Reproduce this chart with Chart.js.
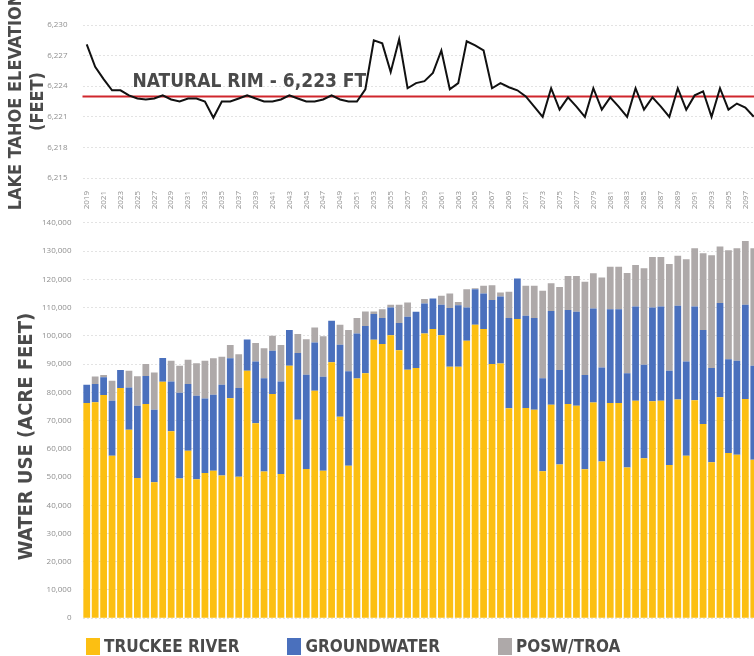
<!DOCTYPE html>
<html>
<head>
<meta charset="utf-8">
<title>Lake Tahoe elevation and water use</title>
<script src="https://cdn.jsdelivr.net/npm/chart.js@4.4.0/dist/chart.umd.min.js"></script>
<style>
  html, body { margin: 0; padding: 0; background: #fff; }
  #wrap { position: relative; width: 754px; height: 656px; overflow: hidden; }
  #elev-chart { position: absolute; left: 0; top: 0; }
  #use-chart  { position: absolute; left: 0; top: 207px; }
  #legend {
    position: absolute; left: 86px; top: 636px; display: flex; align-items: center;
    font: bold 17px "DejaVu Sans Condensed", "Liberation Sans Narrow", Roboto, sans-serif;
    color: #4a4a4a; white-space: nowrap;
  }
  .lg-item { display: flex; align-items: center; margin-right: 48px; }
  .lg-item:nth-child(2) { margin-right: 58px; }
  .lg-box  { width: 14px; height: 17px; margin-right: 4px; }
</style>
</head>
<body>
<div id="wrap">
  <canvas id="elev-chart" width="758" height="212"></canvas>
  <canvas id="use-chart" width="758" height="427"></canvas>
  <div id="legend"></div>
</div>
<script>
// ---- data -------------------------------------------------------------
const years = [
  '2019','2020','2021','2022','2023','2024','2025','2026','2027','2028',
  '2029','2030','2031','2032','2033','2034','2035','2036','2037','2038',
  '2039','2040','2041','2042','2043','2044','2045','2046','2047','2048',
  '2049','2050','2051','2052','2053','2054','2055','2056','2057','2058',
  '2059','2060','2061','2062','2063','2064','2065','2066','2067','2068',
  '2069','2070','2071','2072','2073','2074','2075','2076','2077','2078',
  '2079','2080','2081','2082','2083','2084','2085','2086','2087','2088',
  '2089','2090','2091','2092','2093','2094','2095','2096','2097','2098'
];

// lake elevation, feet
const elevation = [
  6228.1, 6225.9, 6224.7, 6223.6, 6223.6, 6223.1, 6222.8, 6222.7, 6222.8, 6223.1,
  6222.7, 6222.5, 6222.8, 6222.8, 6222.5, 6220.9, 6222.5, 6222.5, 6222.8, 6223.1,
  6222.8, 6222.5, 6222.5, 6222.7, 6223.1, 6222.8, 6222.5, 6222.5, 6222.7, 6223.1,
  6222.7, 6222.5, 6222.5, 6223.7, 6228.5, 6228.2, 6225.4, 6228.6, 6223.8, 6224.3,
  6224.5, 6225.3, 6227.5, 6223.7, 6224.3, 6228.4, 6228.0, 6227.5, 6223.8, 6224.3,
  6223.9, 6223.6, 6223.0, 6222.0, 6221.0, 6223.8, 6221.7, 6222.9, 6222.0, 6221.0,
  6223.8, 6221.7, 6222.9, 6222.0, 6221.0, 6223.8, 6221.7, 6222.9, 6222.0, 6221.0,
  6223.8, 6221.7, 6223.1, 6223.5, 6221.0, 6223.8, 6221.7, 6222.3, 6221.9, 6221.0
];
const rimLevel = 6223;
const rimLabel = 'NATURAL RIM - 6,223 FT';

// water use, acre feet
const truckeeRiver = [
  76200, 76500, 79000, 57500, 81500, 66700, 49600, 75800, 48100, 83700,
  66200, 49500, 59300, 49200, 51400, 52200, 50500, 77900, 50100, 87600,
  69000, 51900, 79400, 51100, 89400, 70300, 52800, 80500, 52200, 90600,
  71300, 54000, 84900, 86700, 98600, 97100, 100200, 94900, 88000, 88600,
  100800, 102400, 100200, 89000, 89000, 98200, 103900, 102400, 90000, 90200,
  74300, 105900, 74400, 73800, 52000, 75600, 54400, 75800, 75200, 52700,
  76400, 55500, 76200, 76200, 53400, 77000, 56600, 76800, 77000, 54200,
  77400, 57500, 77200, 68800, 55200, 78200, 58500, 57900, 77600, 56100
];
const groundwater = [
  6500, 6400, 6300, 19500, 6400, 15000, 25600, 10000, 25700, 8400,
  17600, 30300, 23600, 29600, 26400, 26900, 32200, 14100, 31400, 11100,
  21900, 33100, 15300, 32700, 12600, 23600, 33400, 17100, 33300, 14700,
  25500, 33400, 15900, 16800, 9100, 9200, 9800, 9600, 18700, 19900,
  10600, 10800, 10800, 20800, 21800, 11800, 12600, 12600, 22700, 23700,
  32000, 14400, 32700, 32500, 33000, 33200, 33500, 33300, 33300, 33400,
  33300, 33300, 33200, 33200, 33300, 33400, 33100, 33200, 33400, 33400,
  33200, 33400, 33200, 33200, 33400, 33400, 33200, 33300, 33400, 33300
];
const poswTroa = [
  0, 2700, 800, 7100, 0, 5900, 10500, 4200, 13200, 0,
  7400, 9600, 8600, 11500, 13400, 12900, 9900, 4700, 12000, 0,
  6500, 10600, 5300, 12900, 0, 6700, 12600, 5300, 14300, 0,
  7100, 14600, 5500, 5100, 900, 3100, 1000, 6500, 5100, 0,
  1600, 0, 3200, 5200, 1200, 6500, 300, 2700, 5200, 1400,
  9300, 0, 10600, 11400, 30900, 9800, 29400, 12100, 12700, 33000,
  12400, 31800, 15000, 15000, 35500, 14700, 34200, 17900, 17500, 37800,
  17700, 36200, 20600, 27200, 39900, 20000, 38600, 39800, 22600, 41600
];
const seriesNames  = ['TRUCKEE RIVER', 'GROUNDWATER', 'POSW/TROA'];
const seriesColors = ['#fcbf12', '#4a70bd', '#aea9a9'];
const useTitle = 'WATER USE (ACRE FEET)';

// ---- shared styling ---------------------------------------------------
const TITLE_FONT = '"DejaVu Sans Condensed", "Liberation Sans Narrow", Roboto, sans-serif';
const TICK_FONT  = { family: '"Open Sans", "DejaVu Sans", sans-serif', size: 8 };
const TEXT_DARK  = '#4a4a4a';
const TICK_GREY  = '#8f8f8f';
const AXIS_W     = 82.5;

const fmt = v => Number(v).toLocaleString('en-US');

// red "natural rim" line plus its caption
const rimPlugin = {
  id: 'rim',
  beforeDatasetsDraw(chart) {
    const { ctx, chartArea, scales } = chart;
    const y = scales.y.getPixelForValue(rimLevel);
    ctx.save();
    ctx.strokeStyle = '#d0262c';
    ctx.lineWidth = 2;
    ctx.beginPath();
    ctx.moveTo(chartArea.left, y);
    ctx.lineTo(chartArea.right, y);
    ctx.stroke();
    ctx.fillStyle = TEXT_DARK;
    ctx.font = 'bold 19px ' + TITLE_FONT;
    ctx.textBaseline = 'alphabetic';
    ctx.fillText(rimLabel, chartArea.left + 50, y - 9);
    ctx.restore();
  }
};

// vertical title of the water-use axis, sits a little below the axis middle
const useTitlePlugin = {
  id: 'useTitle',
  afterDraw(chart) {
    const { ctx, chartArea } = chart;
    const cy = (chartArea.top + chartArea.bottom) / 2 + 16;
    ctx.save();
    ctx.translate(27, cy);
    ctx.rotate(-Math.PI / 2);
    ctx.fillStyle = TEXT_DARK;
    ctx.font = 'bold 20px ' + TITLE_FONT;
    ctx.textAlign = 'center';
    ctx.textBaseline = 'middle';
    ctx.fillText(useTitle, 0, 0);
    ctx.restore();
  }
};

// ---- elevation line ---------------------------------------------------
new Chart(document.getElementById('elev-chart'), {
  type: 'line',
  data: {
    labels: years,
    datasets: [{
      label: 'Lake Tahoe elevation',
      data: elevation,
      borderColor: '#111',
      borderWidth: 2,
      pointRadius: 0,
      tension: 0,
      fill: false
    }]
  },
  options: {
    responsive: false,
    animation: false,
    layout: { padding: { top: 25, left: 0, right: 0, bottom: 0 } },
    plugins: { legend: { display: false }, tooltip: { enabled: false } },
    scales: {
      x: {
        offset: true,
        afterFit(axis) { axis.height = 34; axis.paddingLeft = 0; axis.paddingRight = 0; },
        grid: { display: false },
        border: { display: false },
        ticks: {
          autoSkip: false, minRotation: 90, maxRotation: 90, padding: 5,
          color: TICK_GREY, font: TICK_FONT,
          callback(v, i) { return i % 2 === 0 ? this.getLabelForValue(v) : ''; }
        }
      },
      y: {
        min: 6215, max: 6230,
        afterFit(axis) { axis.width = AXIS_W; },
        grid: { color: '#e3e3e3', drawTicks: false },
        border: { display: false, dash: [2, 2] },
        ticks: { stepSize: 3, padding: 15, color: TICK_GREY, font: TICK_FONT, callback: fmt },
        title: {
          display: true,
          text: ['LAKE TAHOE ELEVATION', '(FEET)'],
          color: TEXT_DARK,
          padding: { top: 6, bottom: 0 },
          font: { family: TITLE_FONT, size: 18, weight: 'bold', lineHeight: 1.2 }
        }
      }
    }
  },
  plugins: [rimPlugin]
});

// ---- water use stacked bars ------------------------------------------
const useChart = new Chart(document.getElementById('use-chart'), {
  type: 'bar',
  data: {
    labels: years,
    datasets: [truckeeRiver, groundwater, poswTroa].map((d, i) => ({
      label: seriesNames[i],
      data: d,
      backgroundColor: seriesColors[i],
      borderWidth: 0,
      barPercentage: 0.8,
      categoryPercentage: 1
    }))
  },
  options: {
    responsive: false,
    animation: false,
    layout: { padding: { top: 5, left: 0, right: 0, bottom: 6 } },
    plugins: { legend: { display: false }, tooltip: { enabled: false } },
    scales: {
      x: { stacked: true, display: false },
      y: {
        stacked: true, min: 0, max: 140000,
        afterFit(axis) { axis.width = AXIS_W; },
        grid: { color: '#e3e3e3', drawTicks: false },
        border: { display: false, dash: [2, 2] },
        ticks: { stepSize: 10000, padding: 11, color: TICK_GREY, font: TICK_FONT, callback: fmt }
      }
    }
  },
  plugins: [useTitlePlugin]
});

// ---- legend, built from the bar datasets -------------------------------
const legend = document.getElementById('legend');
useChart.data.datasets.forEach(ds => {
  const item = document.createElement('div');
  item.className = 'lg-item';
  item.innerHTML = `<span class="lg-box" style="background:${ds.backgroundColor}"></span><span>${ds.label}</span>`;
  legend.appendChild(item);
});
</script>
</body>
</html>
